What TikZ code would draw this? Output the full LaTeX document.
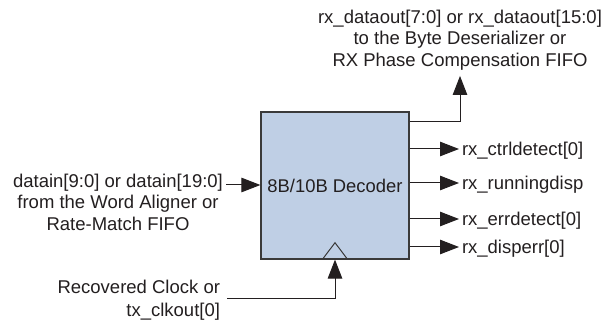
\documentclass[tikz,border=0pt]{standalone}
\usepackage{fontspec}
\setmainfont{Liberation Sans}
\usetikzlibrary{arrows.meta}
\definecolor{ink}{HTML}{231F20}
\definecolor{boxfill}{HTML}{BFCFE5}
\definecolor{boxline}{HTML}{3A3A3A}
\tikzset{
  lbl/.style={inner sep=0pt, outer sep=0pt, text=ink, font=\fontsize{18.5}{21.7}\selectfont},
  outlbl/.style={lbl, anchor=west, inner xsep=3pt, text height=13.2pt, text depth=0pt},
  wire/.style={draw=ink, line width=1pt, -{Triangle[length=19pt,width=14.5pt]}},
  decbox/.style={draw=boxline, fill=boxfill, line width=1.2pt, minimum width=148pt, minimum height=147pt, inner sep=0pt, text=ink, font=\fontsize{18.4}{21.7}\selectfont}
}
\begin{document}
\begin{tikzpicture}[x=1pt,y=-1pt]
\useasboundingbox (0,0) rectangle (605,320);
\fill[white] (0,0) rectangle (605,320);
% decoder box
\node[decbox] (dec) at (335,185.5) {8B/10B Decoder};
\draw[draw=boxline, line width=1pt, line join=miter] (322.7,259) -- (335,242.7) -- (347.3,259);
% input
\node[lbl, anchor=north, align=center] (intext) at (118,173.6) {datain[9:0] or datain[19:0]\\from the Word Aligner or\\Rate-Match FIFO};
\coordinate (inS) at (226,185);
\draw[wire] (inS) -- (inS -| dec.west);
% clock
\node[lbl, anchor=north east, align=right, font=\fontsize{18.5}{23.2}\selectfont] (clktext) at (220,280.3) {Recovered Clock or\\tx\_clkout[0]};
\coordinate (clkS) at (227,299);
\draw[wire] (clkS) -| (dec.south);
% top output
\node[lbl, anchor=north, align=center] (toptext) at (460,9.6) {rx\_dataout[7:0] or rx\_dataout[15:0]\\to the Byte Deserializer or\\RX Phase Compensation FIFO};
\coordinate (topS) at ([yshift=-10pt]dec.north east);
\draw[wire, shorten >=5.7pt] (topS) -| (toptext.south);
% right outputs
\node[outlbl] (o1) at (459,149) {rx\_ctrldetect[0]};
\node[outlbl] (o2) at (459,183) {rx\_runningdisp};
\node[outlbl] (o3) at (459,219) {rx\_errdetect[0]};
\node[outlbl] (o4) at (459,247) {rx\_disperr[0]};
\foreach \o in {o1,o2,o3,o4}{
  \draw[wire] (\o.west -| dec.east) -- (\o.west);
}
\end{tikzpicture}
\end{document}
